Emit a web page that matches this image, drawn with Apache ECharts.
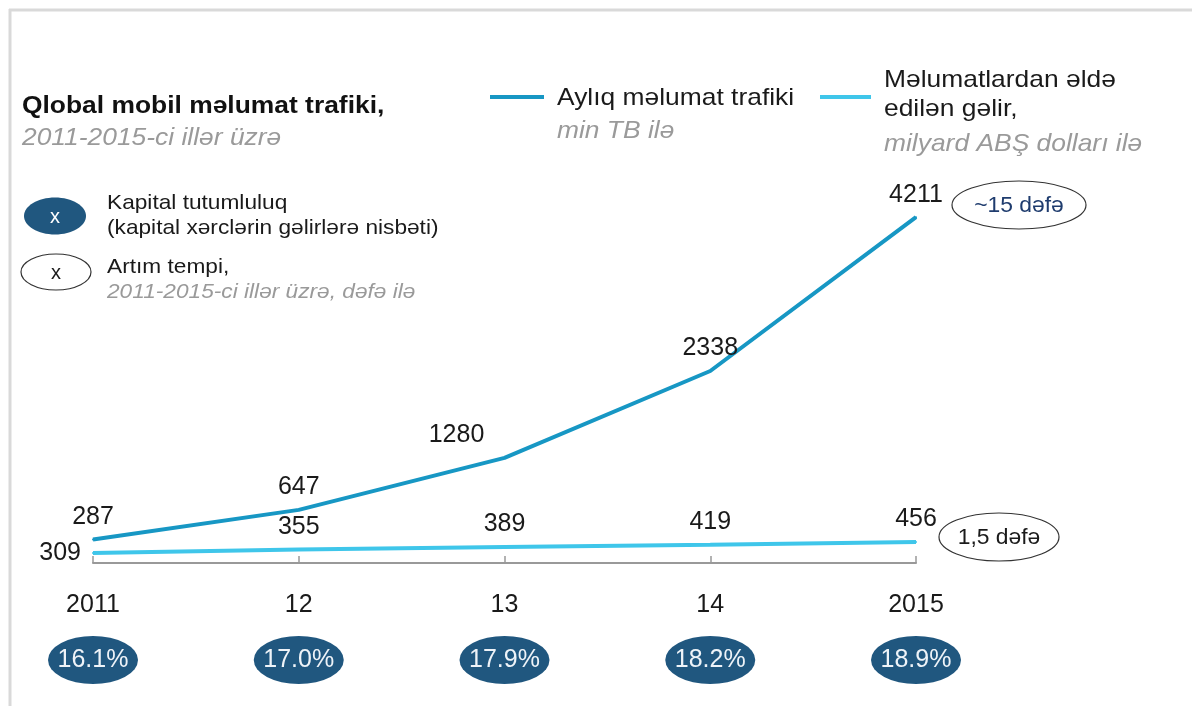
<!DOCTYPE html>
<html>
<head>
<meta charset="utf-8">
<script src="https://cdn.jsdelivr.net/npm/echarts@6/dist/echarts.min.js"></script>
<style>
  html, body { margin: 0; padding: 0; background: #fff; }
  #chart { width: 1200px; height: 706px; }
</style>
</head>
<body>
<div id="chart"></div>
<script>
const years = ['2011', '12', '13', '14', '2015']
const traffic = [287, 647, 1280, 2338, 4211]
const revenue = [309, 355, 389, 419, 456]
const capitalIntensity = [16.1, 17.0, 17.9, 18.2, 18.9]

const trafficColor = '#1797c4'
const revenueColor = '#3fc6ea'
const navy = '#20577f'
const font = 'Liberation Sans, Arial, sans-serif'

const chart = echarts.init(document.getElementById('chart'))

// label placement per point, as in the original
const trafficData = traffic.map((v, i) => {
  if (i === 2) return { value: v, label: { offset: [-48, 0] } }
  return v
})
const revenueData = revenue.map((v, i) => {
  if (i === 0) return { value: v, label: { position: 'left', distance: 11 } }
  return v
})

function txt(x, y, text, style, sx) {
  return {
    type: 'text', x: x, y: y, silent: true, scaleX: sx || 1.1,
    style: Object.assign({ text: text, fill: '#1a1a1a', font: '24px ' + font, verticalAlign: 'middle' }, style)
  }
}

const lineLabel = { show: true, position: 'top', distance: 9, fontSize: 25, color: '#1a1a1a', fontFamily: font, opacity: 1 }

const option = {
  backgroundColor: '#fff',
  animation: false,
  grid: [
    { left: 93, right: 284, top: 200, bottom: 143 },
    { left: 93, right: 284, top: 636, height: 48 }
  ],
  xAxis: [
    {
      type: 'category', gridIndex: 0, data: years, boundaryGap: false,
      axisLine: { lineStyle: { color: '#999', width: 2 } },
      axisTick: { inside: true, length: 7, lineStyle: { color: '#999', width: 1.5 } },
      axisLabel: { fontSize: 25, color: '#1a1a1a', fontFamily: font, margin: 30 }
    },
    {
      type: 'category', gridIndex: 1, data: years, boundaryGap: false, show: false
    }
  ],
  yAxis: [
    { type: 'value', gridIndex: 0, min: 0, max: 4420, show: false },
    { type: 'value', gridIndex: 0, min: 175, max: 5030, show: false },
    { type: 'value', gridIndex: 1, min: 0, max: 1, show: false }
  ],
  series: [
    {
      name: 'Aylıq məlumat trafiki',
      type: 'line', xAxisIndex: 0, yAxisIndex: 0,
      data: trafficData,
      symbol: 'circle', symbolSize: 2, showSymbol: true,
      itemStyle: { color: trafficColor },
      lineStyle: { color: trafficColor, width: 4 },
      label: lineLabel,
      z: 3
    },
    {
      name: 'Məlumatlardan əldə edilən gəlir',
      type: 'line', xAxisIndex: 0, yAxisIndex: 1,
      data: revenueData,
      symbol: 'circle', symbolSize: 2, showSymbol: true,
      itemStyle: { color: revenueColor },
      lineStyle: { color: revenueColor, width: 4 },
      label: lineLabel,
      z: 2
    },
    {
      name: 'Kapital tutumluluq',
      type: 'scatter', xAxisIndex: 1, yAxisIndex: 2,
      data: capitalIntensity.map(() => 0.5),
      symbol: 'circle',
      symbolSize: [90, 48],
      itemStyle: { color: navy, opacity: 1 },
      label: {
        show: true, position: 'inside', fontSize: 25, color: '#eef3f8', fontFamily: font,
        formatter: p => capitalIntensity[p.dataIndex].toFixed(1) + '%'
      }
    }
  ],
  graphic: [
    // frame
    { type: 'line', silent: true, shape: { x1: 9, y1: 10, x2: 1192, y2: 10 }, style: { stroke: '#d9d9d9', lineWidth: 3 } },
    { type: 'line', silent: true, shape: { x1: 10, y1: 9, x2: 10, y2: 706 }, style: { stroke: '#d9d9d9', lineWidth: 3 } },
    // title
    txt(22, 106, 'Qlobal mobil məlumat trafiki,', { font: 'bold 24px ' + font, fill: '#111' }),
    txt(22, 138, '2011-2015-ci illər üzrə', { font: 'italic 24px ' + font, fill: '#9a9a9a' }),
    // top legend
    { type: 'line', silent: true, shape: { x1: 490, y1: 97, x2: 544, y2: 97 }, style: { stroke: trafficColor, lineWidth: 4 } },
    txt(557, 98, 'Aylıq məlumat trafiki', {}),
    txt(557, 131, 'min TB ilə', { font: 'italic 24px ' + font, fill: '#9a9a9a' }),
    { type: 'line', silent: true, shape: { x1: 820, y1: 97, x2: 871, y2: 97 }, style: { stroke: revenueColor, lineWidth: 4 } },
    txt(884, 80, 'Məlumatlardan əldə', {}),
    txt(884, 109, 'edilən gəlir,', {}),
    txt(884, 144, 'milyard ABŞ dolları ilə', { font: 'italic 24px ' + font, fill: '#9a9a9a' }),
    // left legend
    { type: 'ellipse', silent: true, shape: { cx: 55, cy: 216, rx: 31, ry: 18.5 }, style: { fill: navy } },
    txt(55, 217, 'x', { font: '20px ' + font, fill: '#fff', align: 'center' }, 1),
    txt(107, 203, 'Kapital tutumluluq', { font: '21px ' + font }, 1.08),
    txt(107, 228, '(kapital xərclərin gəlirlərə nisbəti)', { font: '21px ' + font }, 1.08),
    { type: 'ellipse', silent: true, shape: { cx: 56, cy: 272, rx: 35, ry: 18 }, style: { fill: '#fff', stroke: '#333', lineWidth: 1.2 } },
    txt(56, 273, 'x', { font: '20px ' + font, align: 'center' }, 1),
    txt(107, 267, 'Artım tempi,', { font: '21px ' + font }, 1.08),
    txt(107, 292, '2011-2015-ci illər üzrə, dəfə ilə', { font: 'italic 21px ' + font, fill: '#9a9a9a' }, 1.08),
    // growth callouts
    { type: 'ellipse', silent: true, shape: { cx: 1019, cy: 205, rx: 67, ry: 24 }, style: { fill: '#fff', stroke: '#333', lineWidth: 1.2 } },
    txt(1019, 206, '~15 dəfə', { font: '22px ' + font, fill: '#1f3c6e', align: 'center' }, 1.04),
    { type: 'ellipse', silent: true, shape: { cx: 999, cy: 537, rx: 60, ry: 24 }, style: { fill: '#fff', stroke: '#333', lineWidth: 1.2 } },
    txt(999, 538, '1,5 dəfə', { font: '22px ' + font, align: 'center' }, 1.04)
  ]
}

chart.setOption(option)
</script>
</body>
</html>
